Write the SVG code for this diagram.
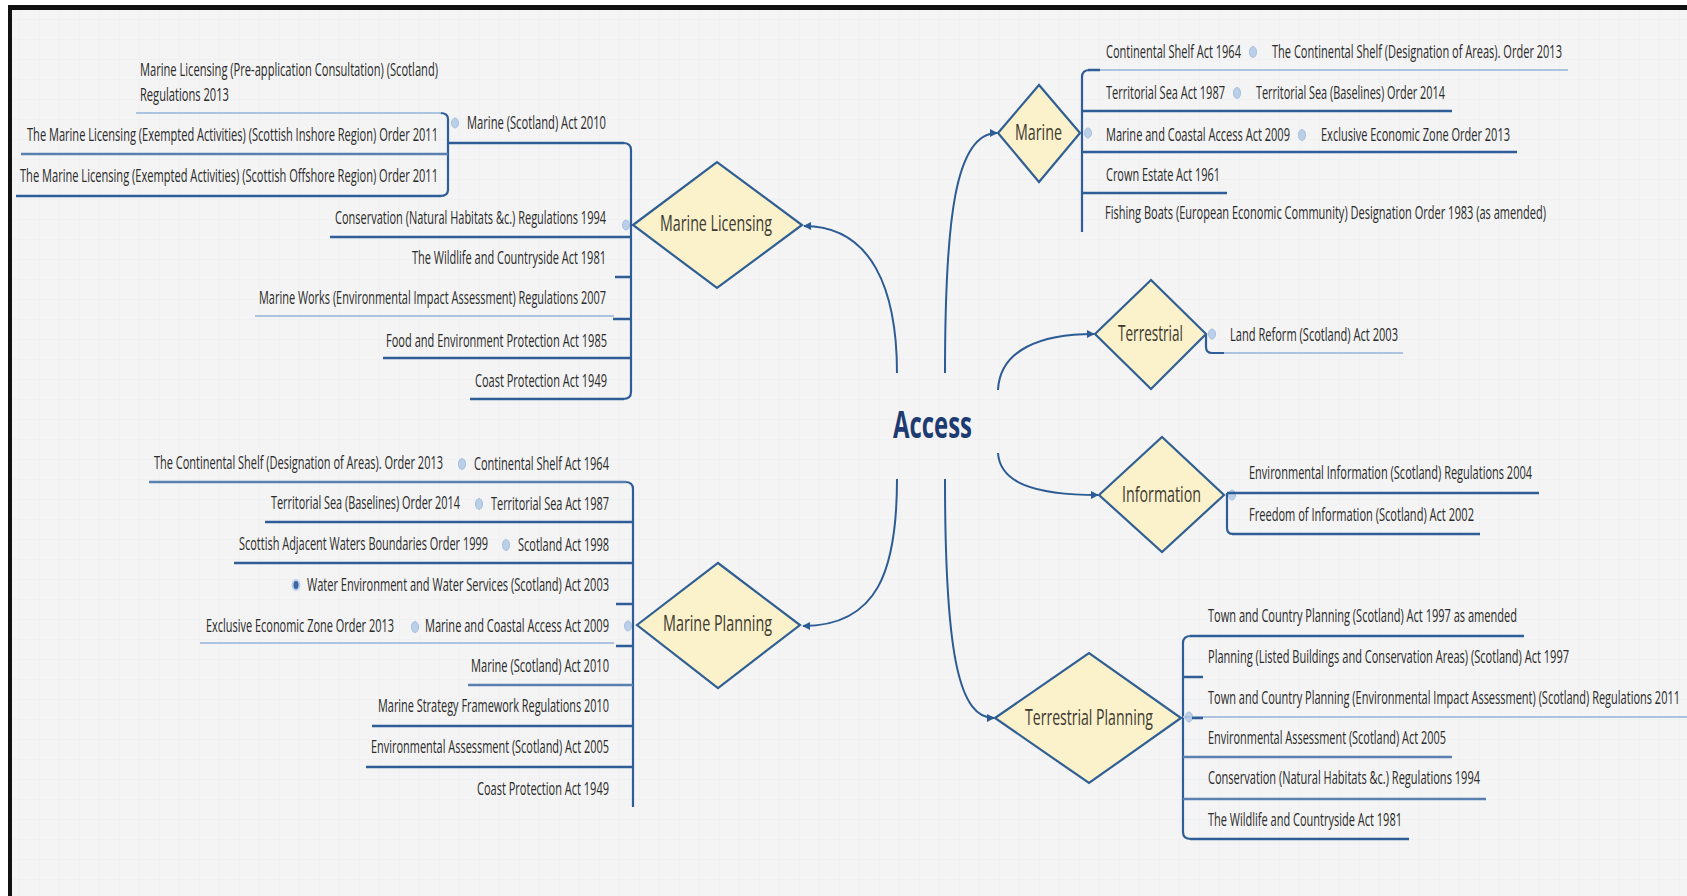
<svg xmlns="http://www.w3.org/2000/svg" width="1687" height="896" viewBox="0 0 1687 896">
<defs>
<style>
.lbl{font-family:"Open Sans","Liberation Sans",sans-serif;font-size:18px;fill:#2a2a2a}
.dtx{font-family:"Open Sans","Liberation Sans",sans-serif;font-size:21px;fill:#3d3a2f}
.acc{font-family:"Open Sans","Liberation Sans",sans-serif;font-size:38px;font-weight:bold;fill:#1d3b70}
.dia{fill:#fbf1cb;stroke:#2f5f93;stroke-width:2.2;stroke-linejoin:miter}
.ul{stroke:#2e5d97;stroke-width:2.5;fill:none}
.um{stroke:#5a80b0;stroke-width:2.3;fill:none}
.ull{stroke:#abc3df;stroke-width:2.2;fill:none}
.br{stroke:#2e5d97;stroke-width:2.2;fill:none}
.con{stroke:#2d5b94;stroke-width:2;fill:none;marker-end:url(#arr)}
.dot{fill:#bccfe8;stroke:#a6bfe0;stroke-width:1}
.dotd{fill:#3f67a3;stroke:#bccfe8;stroke-width:2}
</style>
<marker id="arr" viewBox="0 0 10 10" refX="9" refY="5" markerWidth="4" markerHeight="4" orient="auto" markerUnits="strokeWidth">
<path d="M0,0 L10,5 L0,10 z" fill="#2d5b94"/>
</marker>
<pattern id="grid" width="20" height="20" patternUnits="userSpaceOnUse">
<path d="M20,0 V20 M0,20 H20" stroke="#ebecee" stroke-width="1" fill="none"/>
</pattern>
</defs>

<rect x="0" y="0" width="1687" height="896" fill="#ffffff"/>
<rect x="8" y="5" width="1679" height="891" fill="#f4f4f4"/>
<rect x="8" y="5" width="1679" height="891" fill="url(#grid)"/>
<rect x="8" y="5" width="1679" height="5" fill="#111111"/>
<rect x="8" y="5" width="4" height="891" fill="#111111"/>

<g id="connectors">
<path class="con" d="M897,373 C897,290 872,226 804,226"/>
<path class="con" d="M945,373 C945,220 955,133 997,133"/>
<path class="con" d="M998,390 C1000,350 1040,334 1094,334"/>
<path class="con" d="M998,453 C1000,482 1032,495 1098,495"/>
<path class="con" d="M897,479 C897,570 878,626 803,626"/>
<path class="con" d="M945,479 C945,660 960,718 994,718"/>
<path class="br" d="M440,113 Q448,113 448,119 V190 Q448,196 440,196"/>
<path class="br" d="M623,143 Q631,143 631,150 V392 Q631,399 623,399"/>
<path class="br" d="M625,482 Q633,482 633,489 V807"/>
<path class="br" d="M1090,70 Q1082,70 1082,77 V232"/>
<path class="br" d="M1206,334 V347 Q1206,353 1212,353 H1226"/>
<path class="br" d="M1227,493 V528 Q1227,534 1233,534"/>
<path class="br" d="M1191,636 Q1183,636 1183,643 V832 Q1183,839 1191,839"/>
</g>

<g id="access"><text class="acc" transform="translate(893,438) scale(0.62,1)" textLength="127.4" lengthAdjust="spacingAndGlyphs">Access</text></g>

<g id="marine-licensing">
<polygon class="dia" points="633,225 717,162 802,225 717,288"/>
<text class="dtx" transform="translate(660,231) scale(0.68,1)" textLength="164.7" lengthAdjust="spacingAndGlyphs">Marine Licensing</text>
<ellipse class="dot" cx="626" cy="225" rx="3.5" ry="5"/>
</g>
<g id="marine">
<polygon class="dia" points="998,133 1039,85 1080,133 1039,182"/>
<text class="dtx" transform="translate(1015,140) scale(0.68,1)" textLength="69.1" lengthAdjust="spacingAndGlyphs">Marine</text>
<ellipse class="dot" cx="1088" cy="133" rx="3.5" ry="5"/>
</g>
<g id="terrestrial">
<polygon class="dia" points="1095,334 1151,280 1206,334 1151,389"/>
<text class="dtx" transform="translate(1118,341) scale(0.68,1)" textLength="95.6" lengthAdjust="spacingAndGlyphs">Terrestrial</text>
<ellipse class="dot" cx="1212" cy="334" rx="3.5" ry="5"/>
</g>
<g id="information">
<polygon class="dia" points="1099,495 1162,437 1224,495 1162,552"/>
<text class="dtx" transform="translate(1122,502) scale(0.68,1)" textLength="116.2" lengthAdjust="spacingAndGlyphs">Information</text>
<ellipse class="dot" cx="1232" cy="495" rx="3.5" ry="5"/>
</g>
<g id="marine-planning">
<polygon class="dia" points="637,625 718,563 800,625 718,688"/>
<text class="dtx" transform="translate(663,631) scale(0.68,1)" textLength="160.3" lengthAdjust="spacingAndGlyphs">Marine Planning</text>
<ellipse class="dot" cx="628" cy="626" rx="3.5" ry="5"/>
</g>
<g id="terrestrial-planning">
<polygon class="dia" points="995,718 1089,653 1181,718 1089,783"/>
<text class="dtx" transform="translate(1025,725) scale(0.68,1)" textLength="188.2" lengthAdjust="spacingAndGlyphs">Terrestrial Planning</text>
<ellipse class="dot" cx="1189" cy="717" rx="3.5" ry="5"/>
</g>

<!-- Marine Licensing children -->
<g id="ml-marine-scotland">
<text class="lbl" transform="translate(467,129) scale(0.62,1)" textLength="224.2" lengthAdjust="spacingAndGlyphs">Marine (Scotland) Act 2010</text>
<line class="ul" x1="448" y1="143" x2="624" y2="143"/>
<ellipse class="dot" cx="455" cy="123" rx="3.5" ry="5"/>
</g>
<g id="ml-preapp">
<text class="lbl" transform="translate(140,76) scale(0.62,1)" textLength="480.6" lengthAdjust="spacingAndGlyphs">Marine Licensing (Pre-application Consultation) (Scotland)</text>
<text class="lbl" transform="translate(140,101) scale(0.62,1)" textLength="143.5" lengthAdjust="spacingAndGlyphs">Regulations 2013</text>
<line class="ull" x1="136" y1="113" x2="441" y2="113"/>
</g>
<g id="ml-inshore">
<text class="lbl" transform="translate(27,141) scale(0.62,1)" textLength="662.9" lengthAdjust="spacingAndGlyphs">The Marine Licensing (Exempted Activities) (Scottish Inshore Region) Order 2011</text>
<line class="um" x1="21" y1="154" x2="448" y2="154"/>
</g>
<g id="ml-offshore">
<text class="lbl" transform="translate(20,182) scale(0.62,1)" textLength="674.2" lengthAdjust="spacingAndGlyphs">The Marine Licensing (Exempted Activities) (Scottish Offshore Region) Order 2011</text>
<line class="ul" x1="16" y1="196" x2="441" y2="196"/>
</g>
<g id="ml-conservation">
<text class="lbl" transform="translate(335,224) scale(0.62,1)" textLength="437.1" lengthAdjust="spacingAndGlyphs">Conservation (Natural Habitats &amp;c.) Regulations 1994</text>
<line class="ul" x1="330" y1="237" x2="631" y2="237"/>
</g>
<g id="ml-wildlife">
<text class="lbl" transform="translate(412,264) scale(0.62,1)" textLength="312.9" lengthAdjust="spacingAndGlyphs">The Wildlife and Countryside Act 1981</text>
<line class="ul" x1="615" y1="277" x2="631" y2="277"/>
</g>
<g id="ml-marine-works">
<text class="lbl" transform="translate(259,304) scale(0.62,1)" textLength="559.7" lengthAdjust="spacingAndGlyphs">Marine Works (Environmental Impact Assessment) Regulations 2007</text>
<line class="ull" x1="255" y1="316" x2="614" y2="316"/>
<line class="ul" x1="613" y1="319" x2="631" y2="319"/>
</g>
<g id="ml-food">
<text class="lbl" transform="translate(386,347) scale(0.62,1)" textLength="356.5" lengthAdjust="spacingAndGlyphs">Food and Environment Protection Act 1985</text>
<line class="ul" x1="383" y1="358" x2="631" y2="358"/>
</g>
<g id="ml-coast">
<text class="lbl" transform="translate(475,387) scale(0.62,1)" textLength="212.9" lengthAdjust="spacingAndGlyphs">Coast Protection Act 1949</text>
<line class="ul" x1="470" y1="399" x2="624" y2="399"/>
</g>

<!-- Marine Planning children -->
<g id="mp-continental">
<text class="lbl" transform="translate(154,469) scale(0.62,1)" textLength="466.1" lengthAdjust="spacingAndGlyphs">The Continental Shelf (Designation of Areas). Order 2013</text>
<ellipse class="dot" cx="462" cy="464" rx="3.5" ry="5.5"/>
<text class="lbl" transform="translate(474,470) scale(0.62,1)" textLength="217.7" lengthAdjust="spacingAndGlyphs">Continental Shelf Act 1964</text>
<line class="um" x1="149" y1="482" x2="626" y2="482"/>
</g>
<g id="mp-territorial">
<text class="lbl" transform="translate(271,509) scale(0.62,1)" textLength="304.8" lengthAdjust="spacingAndGlyphs">Territorial Sea (Baselines) Order 2014</text>
<ellipse class="dot" cx="479" cy="504" rx="3.5" ry="5.5"/>
<text class="lbl" transform="translate(491,510) scale(0.62,1)" textLength="190.3" lengthAdjust="spacingAndGlyphs">Territorial Sea Act 1987</text>
<line class="ul" x1="265" y1="522" x2="633" y2="522"/>
</g>
<g id="mp-scotland">
<text class="lbl" transform="translate(239,550) scale(0.62,1)" textLength="401.6" lengthAdjust="spacingAndGlyphs">Scottish Adjacent Waters Boundaries Order 1999</text>
<ellipse class="dot" cx="506" cy="545" rx="3.5" ry="5.5"/>
<text class="lbl" transform="translate(518,551) scale(0.62,1)" textLength="146.8" lengthAdjust="spacingAndGlyphs">Scotland Act 1998</text>
<line class="ul" x1="234" y1="563" x2="633" y2="563"/>
</g>
<g id="mp-water">
<ellipse class="dotd" cx="296" cy="585" rx="3.5" ry="5"/>
<text class="lbl" transform="translate(307,591) scale(0.62,1)" textLength="487.1" lengthAdjust="spacingAndGlyphs">Water Environment and Water Services (Scotland) Act 2003</text>
<line class="ul" x1="616" y1="604" x2="633" y2="604"/>
</g>
<g id="mp-marine-coastal">
<text class="lbl" transform="translate(206,632) scale(0.62,1)" textLength="303.2" lengthAdjust="spacingAndGlyphs">Exclusive Economic Zone Order 2013</text>
<ellipse class="dot" cx="415" cy="627" rx="3.5" ry="5.5"/>
<text class="lbl" transform="translate(425,632) scale(0.62,1)" textLength="296.8" lengthAdjust="spacingAndGlyphs">Marine and Coastal Access Act 2009</text>
<line class="ull" x1="200" y1="643" x2="614" y2="643"/>
<line class="ul" x1="616" y1="646" x2="633" y2="646"/>
</g>
<g id="mp-marine-scotland">
<text class="lbl" transform="translate(471,672) scale(0.62,1)" textLength="222.6" lengthAdjust="spacingAndGlyphs">Marine (Scotland) Act 2010</text>
<line class="um" x1="468" y1="685" x2="633" y2="685"/>
</g>
<g id="mp-strategy">
<text class="lbl" transform="translate(378,712) scale(0.62,1)" textLength="372.6" lengthAdjust="spacingAndGlyphs">Marine Strategy Framework Regulations 2010</text>
<line class="ul" x1="372" y1="726" x2="633" y2="726"/>
</g>
<g id="mp-env-assessment">
<text class="lbl" transform="translate(371,753) scale(0.62,1)" textLength="383.9" lengthAdjust="spacingAndGlyphs">Environmental Assessment (Scotland) Act 2005</text>
<line class="ul" x1="366" y1="767" x2="633" y2="767"/>
</g>
<g id="mp-coast">
<text class="lbl" transform="translate(477,795) scale(0.62,1)" textLength="212.9" lengthAdjust="spacingAndGlyphs">Coast Protection Act 1949</text>
</g>

<!-- Marine children -->
<g id="m-continental">
<text class="lbl" transform="translate(1106,58) scale(0.62,1)" textLength="217.7" lengthAdjust="spacingAndGlyphs">Continental Shelf Act 1964</text>
<ellipse class="dot" cx="1253" cy="52" rx="3.5" ry="5.5"/>
<text class="lbl" transform="translate(1272,58) scale(0.62,1)" textLength="467.7" lengthAdjust="spacingAndGlyphs">The Continental Shelf (Designation of Areas). Order 2013</text>
<line class="ull" x1="1098" y1="70" x2="1568" y2="70"/>
<line class="ul" x1="1088" y1="70" x2="1100" y2="70"/>
</g>
<g id="m-territorial">
<text class="lbl" transform="translate(1106,99) scale(0.62,1)" textLength="191.9" lengthAdjust="spacingAndGlyphs">Territorial Sea Act 1987</text>
<ellipse class="dot" cx="1237" cy="93" rx="3.5" ry="5.5"/>
<text class="lbl" transform="translate(1256,99) scale(0.62,1)" textLength="304.8" lengthAdjust="spacingAndGlyphs">Territorial Sea (Baselines) Order 2014</text>
<line class="ul" x1="1082" y1="111" x2="1452" y2="111"/>
</g>
<g id="m-marine-coastal">
<text class="lbl" transform="translate(1106,141) scale(0.62,1)" textLength="296.8" lengthAdjust="spacingAndGlyphs">Marine and Coastal Access Act 2009</text>
<ellipse class="dot" cx="1302" cy="135" rx="3.5" ry="5.5"/>
<text class="lbl" transform="translate(1321,141) scale(0.62,1)" textLength="304.8" lengthAdjust="spacingAndGlyphs">Exclusive Economic Zone Order 2013</text>
<line class="ul" x1="1082" y1="152" x2="1517" y2="152"/>
</g>
<g id="m-crown">
<text class="lbl" transform="translate(1106,181) scale(0.62,1)" textLength="183.9" lengthAdjust="spacingAndGlyphs">Crown Estate Act 1961</text>
<line class="ul" x1="1082" y1="193" x2="1227" y2="193"/>
</g>
<g id="m-fishing">
<text class="lbl" transform="translate(1105,219) scale(0.62,1)" textLength="711.3" lengthAdjust="spacingAndGlyphs">Fishing Boats (European Economic Community) Designation Order 1983 (as amended)</text>
</g>

<!-- Terrestrial children -->
<g id="t-land-reform">
<text class="lbl" transform="translate(1230,341) scale(0.62,1)" textLength="271" lengthAdjust="spacingAndGlyphs">Land Reform (Scotland) Act 2003</text>
<line class="ull" x1="1224" y1="353" x2="1403" y2="353"/>
</g>

<!-- Information children -->
<g id="i-env-info">
<text class="lbl" transform="translate(1249,479) scale(0.62,1)" textLength="456.5" lengthAdjust="spacingAndGlyphs">Environmental Information (Scotland) Regulations 2004</text>
<line class="ul" x1="1227" y1="493" x2="1539" y2="493"/>
</g>
<g id="i-foi">
<text class="lbl" transform="translate(1249,521) scale(0.62,1)" textLength="362.9" lengthAdjust="spacingAndGlyphs">Freedom of Information (Scotland) Act 2002</text>
<line class="ul" x1="1232" y1="534" x2="1480" y2="534"/>
</g>

<!-- Terrestrial Planning children -->
<g id="tp-tcp">
<text class="lbl" transform="translate(1208,622) scale(0.62,1)" textLength="498.4" lengthAdjust="spacingAndGlyphs">Town and Country Planning (Scotland) Act 1997 as amended</text>
<line class="ul" x1="1190" y1="636" x2="1524" y2="636"/>
</g>
<g id="tp-listed">
<text class="lbl" transform="translate(1208,663) scale(0.62,1)" textLength="582.3" lengthAdjust="spacingAndGlyphs">Planning (Listed Buildings and Conservation Areas) (Scotland) Act 1997</text>
<line class="ul" x1="1183" y1="677" x2="1203" y2="677"/>
</g>
<g id="tp-eia">
<text class="lbl" transform="translate(1208,704) scale(0.62,1)" textLength="761.3" lengthAdjust="spacingAndGlyphs">Town and Country Planning (Environmental Impact Assessment) (Scotland) Regulations 2011</text>
<line class="ull" x1="1183" y1="717" x2="1687" y2="717"/>
<line class="ul" x1="1192" y1="718" x2="1203" y2="718"/>
</g>
<g id="tp-env-assessment">
<text class="lbl" transform="translate(1208,744) scale(0.62,1)" textLength="383.9" lengthAdjust="spacingAndGlyphs">Environmental Assessment (Scotland) Act 2005</text>
<line class="um" x1="1183" y1="757" x2="1452" y2="757"/>
</g>
<g id="tp-conservation">
<text class="lbl" transform="translate(1208,784) scale(0.62,1)" textLength="438.7" lengthAdjust="spacingAndGlyphs">Conservation (Natural Habitats &amp;c.) Regulations 1994</text>
<line class="um" x1="1183" y1="799" x2="1486" y2="799"/>
</g>
<g id="tp-wildlife">
<text class="lbl" transform="translate(1208,826) scale(0.62,1)" textLength="312.9" lengthAdjust="spacingAndGlyphs">The Wildlife and Countryside Act 1981</text>
<line class="ul" x1="1190" y1="839" x2="1409" y2="839"/>
</g>
</svg>
